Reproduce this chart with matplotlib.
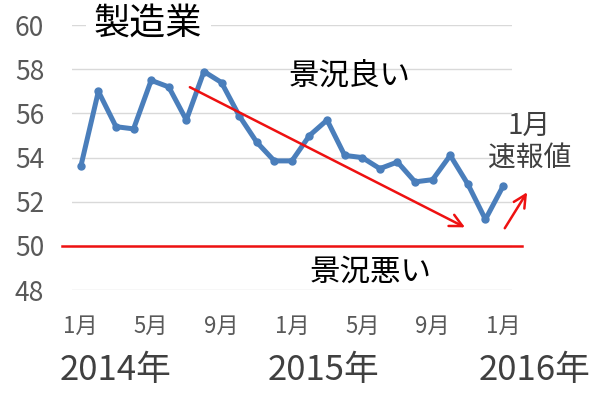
import matplotlib
matplotlib.use("Agg")
import matplotlib.pyplot as plt

plt.rcParams['font.family'] = ['Noto Sans CJK JP', 'DejaVu Sans']

# Markit manufacturing PMI, Jan 2014 - Jan 2016 (flash)
pmi = [53.6, 57.0, 55.4, 55.3, 57.5, 57.2, 55.7, 57.9, 57.4, 55.9, 54.7, 53.85,
       53.85, 55.0, 55.7, 54.1, 54.0, 53.5, 53.8, 52.9, 53.0, 54.1, 52.8, 51.2, 52.7]
months = list(range(len(pmi)))
tick_pos = [0, 4, 8, 12, 16, 20, 24]
tick_labels = ['1月', '5月', '9月', '1月', '5月', '9月', '1月']
years = ['2014年', '2015年', '2016年']
year_pos = [2.0, 13.8, 25.8]
yticks = [48, 50, 52, 54, 56, 58, 60]

blue = '#4a7ebb'
red = '#ee1111'
gray = '#595959'

fig = plt.figure(figsize=(6, 3.93), dpi=100)
ax = fig.add_axes([0.12, 0.262, 0.733, 0.674])

for y in yticks:
    ax.axhline(y, color='#d9d9d9', lw=1, zorder=0)

ax.plot(months, pmi, color=blue, lw=3.6, marker='o', ms=5, zorder=3,
        solid_capstyle='round', solid_joinstyle='round')

# 50 line (boom / bust threshold)
ax.plot([-1.08, 25.1], [50, 50], color=red, lw=1.8, clip_on=False, zorder=2)

ax.annotate('', xy=(21.84, 50.84), xytext=(6.2, 57.19),
            arrowprops=dict(arrowstyle='->,head_length=0.9,head_width=0.45',
                            color=red, lw=1.8, shrinkA=0, shrinkB=0))
ax.annotate('', xy=(25.37, 52.43), xytext=(24.1, 50.8),
            arrowprops=dict(arrowstyle='->,head_length=0.9,head_width=0.45',
                            color=red, lw=1.8, shrinkA=0, shrinkB=0),
            annotation_clip=False)

ax.set_xlim(-0.5, 24.5)
ax.set_ylim(48, 60)
ax.set_yticks(yticks)
ax.set_yticklabels([str(v) for v in yticks], fontsize=19, color=gray)
ax.set_xticks(tick_pos)
ax.set_xticklabels(tick_labels, fontsize=16, color=gray)
ax.tick_params(length=0)
ax.tick_params(axis='y', pad=20)
ax.tick_params(axis='x', pad=18)
for s in ax.spines.values():
    s.set_visible(False)

for label, x in zip(years, year_pos):
    ax.text(x, 44.35, label, fontsize=25, color='#404040', ha='center', va='center',
            clip_on=False)

ax.text(0.75, 60.05, '製造業', fontsize=26, color='black', ha='left', va='center',
        bbox=dict(facecolor='white', edgecolor='none', pad=6), zorder=4)
ax.text(15.3, 57.7, '景況良い', fontsize=22, color='black', ha='center', va='center')
ax.text(16.5, 48.8, '景況悪い', fontsize=22, color='black', ha='center', va='center')
ax.text(25.5, 54.7, '1月\n速報値', fontsize=20, color='#404040', ha='center', va='center',
        linespacing=1.15, clip_on=False)

fig.savefig('out.png', dpi=100)
